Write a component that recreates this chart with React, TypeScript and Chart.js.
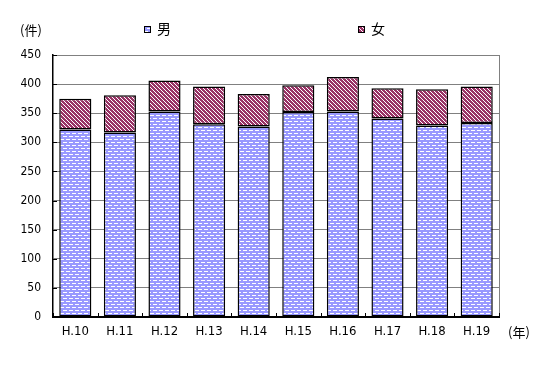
import React, { useEffect, useRef } from "react";
import { Chart, registerables } from "chart.js";

Chart.register(...registerables);

const categories = ["H.10", "H.11", "H.12", "H.13", "H.14", "H.15", "H.16", "H.17", "H.18", "H.19"];
const maleLabel = "男";
const femaleLabel = "女";
const maleValues = [322, 317, 353, 331, 327, 352, 353, 341, 329, 333];
const femaleValues = [53, 64, 53, 65, 56, 46, 59, 52, 62, 63];
const yTicks = { min: 0, max: 450, step: 50 };
const yUnit = "(件)";
const xUnit = "(年)";

const MAROON = "#993366";
const BLUE = "#9999FF";
const TICK_FONT = "'DejaVu Sans Condensed', 'Noto Sans CJK JP', sans-serif";
const CJK_FONT = "'Noto Sans CJK JP', sans-serif";

function makeStripePattern(ctx: CanvasRenderingContext2D): CanvasPattern {
  const c = document.createElement("canvas");
  c.width = 8;
  c.height = 8;
  const g = c.getContext("2d")!;
  g.fillStyle = "#ffffff";
  g.fillRect(0, 0, 8, 8);
  g.fillStyle = MAROON;
  for (let y = 0; y < 8; y++) {
    for (let x = 0; x < 8; x++) {
      const m = (((x - y) % 4) + 4) % 4;
      if (m < 3) g.fillRect(x, y, 1, 1);
    }
  }
  return ctx.createPattern(c, "repeat")!;
}

function makeDotPattern(ctx: CanvasRenderingContext2D): CanvasPattern {
  const c = document.createElement("canvas");
  c.width = 6;
  c.height = 6;
  const g = c.getContext("2d")!;
  g.fillStyle = BLUE;
  g.fillRect(0, 0, 6, 6);
  g.fillStyle = "#ffffff";
  g.fillRect(0, 1, 4, 1);
  g.fillRect(3, 4, 3, 1);
  g.fillRect(0, 4, 1, 1);
  return ctx.createPattern(c, "repeat")!;
}

export default function App() {
  const ref = useRef<HTMLCanvasElement | null>(null);

  useEffect(() => {
    const canvas = ref.current!;
    const ctx = canvas.getContext("2d")!;
    const stripe = makeStripePattern(ctx);
    const dots = makeDotPattern(ctx);

    const decor = {
      id: "decor",
      afterDraw(chart: any) {
        const c = chart.ctx as CanvasRenderingContext2D;
        const area = chart.chartArea;
        const ys = chart.scales.y;
        c.save();
        c.strokeStyle = "#808080";
        c.lineWidth = 1;
        c.beginPath();
        c.moveTo(Math.round(area.right) + 0.5, area.top);
        c.lineTo(Math.round(area.right) + 0.5, area.bottom);
        c.stroke();
        c.strokeStyle = "#000";
        c.beginPath();
        for (let v = yTicks.min; v <= yTicks.max; v += yTicks.step) {
          const py = Math.round(ys.getPixelForValue(v)) + 0.5;
          c.moveTo(area.left, py);
          c.lineTo(area.left + 4, py);
        }
        const w = (area.right - area.left) / categories.length;
        for (let i = 0; i <= categories.length; i++) {
          const px = Math.round(area.left + i * w) + 0.5;
          c.moveTo(px, area.bottom);
          c.lineTo(px, area.bottom - 4);
        }
        c.stroke();
        c.lineWidth = 2;
        c.beginPath();
        c.moveTo(area.left, Math.round(area.bottom));
        c.lineTo(area.right + 1, Math.round(area.bottom));
        c.stroke();
        c.fillStyle = "#000";
        c.font = `13px ${CJK_FONT}`;
        c.textBaseline = "middle";
        c.textAlign = "left";
        c.fillText(yUnit, 20, 30);
        c.fillText(xUnit, 508, 332);
        const items = [
          { x: 144, label: maleLabel, fill: dots },
          { x: 358, label: femaleLabel, fill: stripe },
        ];
        c.font = `14px ${CJK_FONT}`;
        for (const it of items) {
          c.fillStyle = it.fill as any;
          c.fillRect(it.x, 26, 7, 7);
          c.strokeStyle = "#000";
          c.lineWidth = 1;
          c.strokeRect(it.x + 0.5, 26.5, 6, 6);
          c.fillStyle = "#000";
          c.fillText(it.label, it.x + 13, 29);
        }
        c.restore();
      },
    };

    const chart = new Chart(canvas, {
      type: "bar",
      data: {
        labels: categories,
        datasets: [
          {
            label: maleLabel,
            data: maleValues,
            backgroundColor: dots as any,
            borderColor: "#000",
            borderWidth: 1.5,
            borderSkipped: false,
            barPercentage: 0.72,
            categoryPercentage: 1,
          },
          {
            label: femaleLabel,
            data: femaleValues,
            backgroundColor: stripe as any,
            borderColor: "#000",
            borderWidth: 1.5,
            borderSkipped: false,
            barPercentage: 0.72,
            categoryPercentage: 1,
          },
        ],
      },
      options: {
        responsive: false,
        animation: false,
        layout: { padding: { top: 55, right: 51, left: 0, bottom: 0 } },
        plugins: {
          legend: { display: false },
          title: { display: false },
          tooltip: { enabled: false },
        },
        scales: {
          x: {
            stacked: true,
            grid: { display: false, drawTicks: false },
            border: { display: false },
            ticks: {
              color: "#000",
              font: { family: TICK_FONT, size: 13 },
              padding: 7,
              maxRotation: 0,
              autoSkip: false,
            },
            afterFit: (s: any) => {
              s.height = 50;
            },
          },
          y: {
            stacked: true,
            min: yTicks.min,
            max: yTicks.max,
            grid: { color: "#808080", lineWidth: 1, drawTicks: false },
            border: { display: true, color: "#000", width: 1.5 },
            ticks: {
              stepSize: yTicks.step,
              color: "#000",
              font: { family: TICK_FONT, size: 12 },
              padding: 12,
            },
            afterFit: (s: any) => {
              s.width = 53;
            },
          },
        },
      },
      plugins: [decor],
    });
    return () => chart.destroy();
  }, []);

  return (
    <div style={{ position: "fixed", left: 0, top: 0, width: 550, height: 367, background: "#fff" }}>
      <canvas ref={ref} width={550} height={367} style={{ display: "block" }} />
    </div>
  );
}
